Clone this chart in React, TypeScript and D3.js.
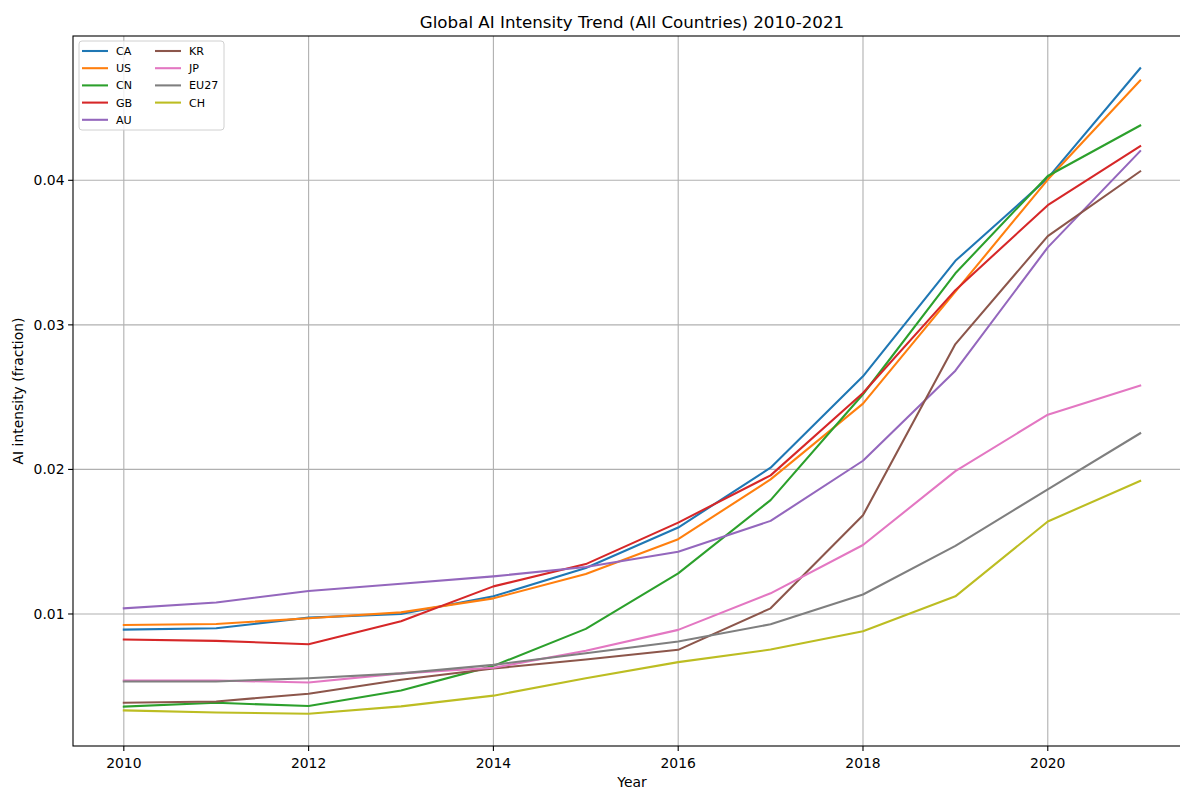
import React from "react";
import * as d3 from "d3";

const years = [2010, 2011, 2012, 2013, 2014, 2015, 2016, 2017, 2018, 2019, 2020, 2021];

const countries = ["CA", "US", "CN", "GB", "AU", "KR", "JP", "EU27", "CH"];

const colors = ["#1f77b4", "#ff7f0e", "#2ca02c", "#d62728", "#9467bd", "#8c564b", "#e377c2", "#7f7f7f", "#bcbd22"];

const caValues = [0.00892, 0.00901, 0.00975, 0.0100, 0.01122, 0.01318, 0.01598, 0.02012, 0.02644, 0.03443, 0.04015, 0.04775];
const usValues = [0.00924, 0.00931, 0.0097, 0.01011, 0.01108, 0.01276, 0.01517, 0.01931, 0.02455, 0.0323, 0.04005, 0.0469];
const cnValues = [0.00359, 0.00386, 0.00363, 0.00471, 0.00641, 0.00897, 0.01281, 0.01788, 0.0252, 0.03357, 0.0403, 0.04379];
const gbValues = [0.00823, 0.00814, 0.00791, 0.0095, 0.01191, 0.01345, 0.01632, 0.01959, 0.02529, 0.0324, 0.03828, 0.04236];
const auValues = [0.01039, 0.0108, 0.01159, 0.01209, 0.0126, 0.01325, 0.0143, 0.01644, 0.0206, 0.02683, 0.03536, 0.04202];
const krValues = [0.00386, 0.00395, 0.00448, 0.00545, 0.00623, 0.00685, 0.00752, 0.01039, 0.01683, 0.02867, 0.03614, 0.04062];
const jpValues = [0.0054, 0.0054, 0.00526, 0.00589, 0.00628, 0.00745, 0.0089, 0.01143, 0.01477, 0.01988, 0.02379, 0.0258];
const eu27Values = [0.00533, 0.00533, 0.00556, 0.00589, 0.00648, 0.00728, 0.00809, 0.00929, 0.01135, 0.01471, 0.01862, 0.0225];
const chValues = [0.00333, 0.00319, 0.0031, 0.00361, 0.00435, 0.00555, 0.00667, 0.00754, 0.00881, 0.01122, 0.0164, 0.0192];

const seriesValues = [caValues, usValues, cnValues, gbValues, auValues, krValues, jpValues, eu27Values, chValues];

const xTicks = [2010, 2012, 2014, 2016, 2018, 2020];
const yTicks = [0.01, 0.02, 0.03, 0.04];

const W = 1180;
const H = 789;
const left = 73;
const right = 1191;
const top = 36;
const bottom = 746;
const font = "DejaVu Sans, sans-serif";

export default function App() {
  const allVals = seriesValues.flat();
  const yMin = d3.min(allVals)!;
  const yMax = d3.max(allVals)!;
  const yPad = (yMax - yMin) * 0.05;
  const xPad = (2021 - 2010) * 0.05;

  const x = d3.scaleLinear().domain([2010 - xPad, 2021 + xPad]).range([left, right]);
  const y = d3.scaleLinear().domain([yMin - yPad, yMax + yPad]).range([bottom, top]);

  const line = d3
    .line<number>()
    .x((_, i) => x(years[i]))
    .y((v) => y(v));

  const legendRows = 5;
  const legendX = 79;
  const legendY = 41;

  return (
    <svg
      width={W}
      height={H}
      style={{ position: "absolute", left: 0, top: 0, background: "#fff" }}
      fontFamily={font}
    >
      <rect x={0} y={0} width={W} height={H} fill="#fff" />
      {/* grid */}
      {xTicks.map((t) => (
        <line key={"gx" + t} x1={x(t)} x2={x(t)} y1={top} y2={bottom} stroke="#b0b0b0" strokeWidth={1.1} />
      ))}
      {yTicks.map((t) => (
        <line key={"gy" + t} x1={left} x2={right} y1={y(t)} y2={y(t)} stroke="#b0b0b0" strokeWidth={1.1} />
      ))}
      {/* series */}
      {seriesValues.map((vals, i) => (
        <path
          key={countries[i]}
          d={line(vals) || ""}
          fill="none"
          stroke={colors[i]}
          strokeWidth={2.08}
          strokeLinejoin="round"
          strokeLinecap="square"
        />
      ))}
      {/* spines */}
      <rect x={left} y={top} width={right - left} height={bottom - top} fill="none" stroke="#000" strokeWidth={1.1} />
      {/* x ticks */}
      {xTicks.map((t) => (
        <g key={"xt" + t}>
          <line x1={x(t)} x2={x(t)} y1={bottom} y2={bottom + 4.9} stroke="#000" strokeWidth={1.1} />
          <text x={x(t)} y={bottom + 22} fontSize={13.9} textAnchor="middle" fill="#000">
            {t}
          </text>
        </g>
      ))}
      {/* y ticks */}
      {yTicks.map((t) => (
        <g key={"yt" + t}>
          <line x1={left - 4.9} x2={left} y1={y(t)} y2={y(t)} stroke="#000" strokeWidth={1.1} />
          <text x={left - 8.5} y={y(t)} dy="0.36em" fontSize={13.9} textAnchor="end" fill="#000">
            {d3.format(".2f")(t)}
          </text>
        </g>
      ))}
      {/* axis labels */}
      <text x={(left + right) / 2} y={786.5} fontSize={13.9} textAnchor="middle">
        Year
      </text>
      <text
        transform={`translate(23, ${(top + bottom) / 2}) rotate(-90)`}
        fontSize={13.9}
        textAnchor="middle"
      >
        AI intensity (fraction)
      </text>
      {/* title */}
      <text x={(left + right) / 2} y={28} fontSize={16.7} textAnchor="middle">
        Global AI Intensity Trend (All Countries) 2010-2021
      </text>
      {/* legend */}
      <rect
        x={legendX}
        y={legendY}
        width={145}
        height={89}
        rx={3}
        fill="#fff"
        fillOpacity={0.8}
        stroke="#d0d0d0"
        strokeWidth={1}
      />
      {countries.map((c, i) => {
        const col = Math.floor(i / legendRows);
        const row = i % legendRows;
        const lx = legendX + 3 + col * 73;
        const ly = legendY + 10 + row * 17.2;
        return (
          <g key={"lg" + c}>
            <line x1={lx} x2={lx + 26} y1={ly} y2={ly} stroke={colors[i]} strokeWidth={2.08} />
            <text x={lx + 34} y={ly} dy="0.36em" fontSize={11.1} fill="#000">
              {c}
            </text>
          </g>
        );
      })}
    </svg>
  );
}
